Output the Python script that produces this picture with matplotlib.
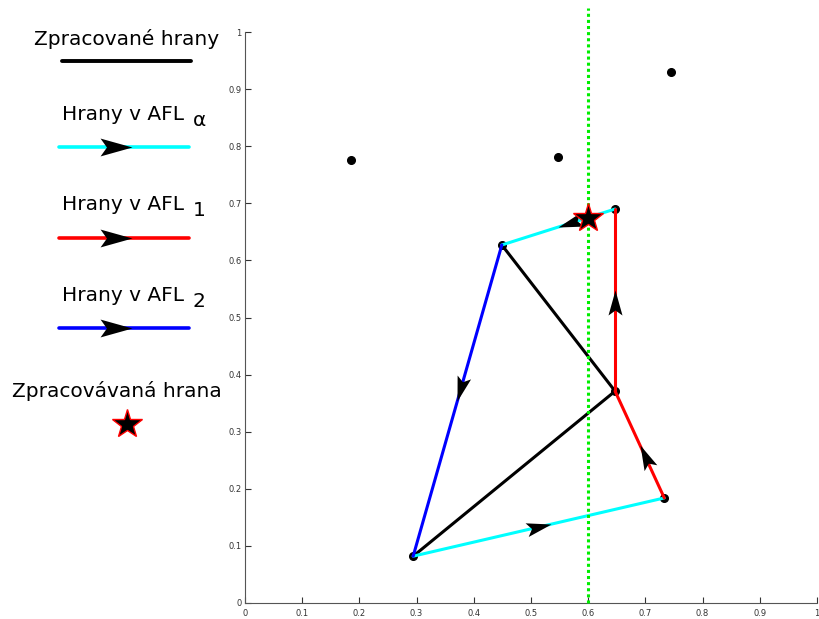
import numpy as np
import matplotlib
matplotlib.use("Agg")
import matplotlib.pyplot as plt
from matplotlib.path import Path
from matplotlib.markers import MarkerStyle
from matplotlib.transforms import Affine2D

# Input points (x, y)
pts_x = [0.185, 0.547, 0.745, 0.647, 0.449, 0.647, 0.733, 0.294]
pts_y = [0.776, 0.781, 0.930, 0.690, 0.627, 0.371, 0.184, 0.082]

# Processed edges (no direction)
done_edges = [(4, 5), (7, 5)]
# Directed edges per active front list: (from, to, arrow position along edge)
afl_alpha = [(7, 6, 0.55), (3, 4, 0.50)]
afl_1 = [(6, 5, 0.50), (5, 3, 0.555)]
afl_2 = [(4, 7, 0.50)]

# Sweep line and the edge being processed
sweep_x = 0.6
current_edge = (3, 4)

ticks = [0, 0.1, 0.2, 0.3, 0.4, 0.5, 0.6, 0.7, 0.8, 0.9, 1]
tick_labels = ["0", "0.1", "0.2", "0.3", "0.4", "0.5", "0.6", "0.7", "0.8", "0.9", "1"]

CYAN = "#00ffff"
RED = "#ff0000"
BLUE = "#0000ff"
GREEN = "#00ee00"

W, H = 819, 619
fig = plt.figure(figsize=(W / 100, H / 100), dpi=100)
ax = fig.add_axes([245 / W, (H - 603) / H, 572 / W, 571 / H])
ax.set_xlim(0, 1)
ax.set_ylim(0, 1)
for s in ("top", "right"):
    ax.spines[s].set_visible(False)
for s in ("left", "bottom"):
    ax.spines[s].set_color("#555555")
    ax.spines[s].set_linewidth(0.8)
ax.set_xticks(ticks)
ax.set_xticklabels(tick_labels)
ax.set_yticks(ticks)
ax.set_yticklabels(tick_labels)
ax.tick_params(axis="both", direction="in", length=4, width=0.8, color="#333333",
               labelsize=6, labelcolor="#333333")
ax.tick_params(axis="x", pad=4)
ax.tick_params(axis="y", pad=2.5)

# arrowhead shape: tip at origin, notched back
head_path = Path([(0, 0), (-1, 0.28), (-0.8, 0), (-1, -0.28), (0, 0)],
                 [Path.MOVETO, Path.LINETO, Path.LINETO, Path.LINETO, Path.CLOSEPOLY])


def arrow_marker(angle_deg):
    return MarkerStyle(head_path, transform=Affine2D().rotate_deg(angle_deg))


def draw_directed(ax, edges, color, head_len_pt=18):
    for a, b, f in edges:
        x0, y0, x1, y1 = pts_x[a], pts_y[a], pts_x[b], pts_y[b]
        ax.plot([x0, x1], [y0, y1], color=color, lw=2.2, zorder=3,
                solid_capstyle="round")
        d0 = ax.transData.transform((x0, y0))
        d1 = ax.transData.transform((x1, y1))
        ang = np.degrees(np.arctan2(d1[1] - d0[1], d1[0] - d0[0]))
        mx, my = x0 + f * (x1 - x0), y0 + f * (y1 - y0)
        ax.plot([mx], [my], marker=arrow_marker(ang), ms=2 * head_len_pt,
                color="black", mec="none", ls="none", zorder=5)


# points (drawn under edges)
ax.plot(pts_x, pts_y, "o", color="black", ms=5.5, zorder=2)

for a, b in done_edges:
    ax.plot([pts_x[a], pts_x[b]], [pts_y[a], pts_y[b]], color="black", lw=2.2, zorder=3)

draw_directed(ax, afl_alpha, CYAN)
draw_directed(ax, afl_1, RED)
draw_directed(ax, afl_2, BLUE)

# sweep line
ax.plot([sweep_x, sweep_x], [0, 1.042], color=GREEN, lw=2.2, dashes=(1, 1),
        zorder=4, clip_on=False)

# processed edge marker at the sweep-line intersection
a, b = current_edge
t = (sweep_x - pts_x[a]) / (pts_x[b] - pts_x[a])
star_y = pts_y[a] + t * (pts_y[b] - pts_y[a])
ax.plot([sweep_x], [star_y], marker="*", ms=22, mfc="black", mec="red", mew=1,
        zorder=6, ls="none")

# legend panel drawn in pixel coordinates
lg = fig.add_axes([0, 0, 1, 1])
lg.set_xlim(0, W)
lg.set_ylim(H, 0)
lg.axis("off")
lg.patch.set_visible(False)

fs = 14.5
lg.text(127, 45, "Zpracované hrany", fontsize=fs, ha="center", va="baseline")
lg.plot([62, 191], [61, 61], color="black", lw=2.8, solid_capstyle="round")

legend_rows = [("α", CYAN, 120, 147), ("1", RED, 210, 238), ("2", BLUE, 301, 328)]
for sub, color, base, ly in legend_rows:
    t_main = lg.text(62, base, "Hrany v AFL", fontsize=fs, ha="left", va="baseline")
    lg.text(193, base + 6, sub, fontsize=fs, ha="left", va="baseline")
    lg.plot([59, 189], [ly, ly], color=color, lw=2.6, solid_capstyle="round")
    lg.plot([132], [ly], marker=arrow_marker(0), ms=2 * 23, color="black",
            mec="none", ls="none")

lg.text(117, 397, "Zpracovávaná hrana", fontsize=fs, ha="center", va="baseline")
lg.plot([127], [424], marker="*", ms=22, mfc="black", mec="red", mew=1, ls="none")

fig.savefig("out.png", dpi=100)
